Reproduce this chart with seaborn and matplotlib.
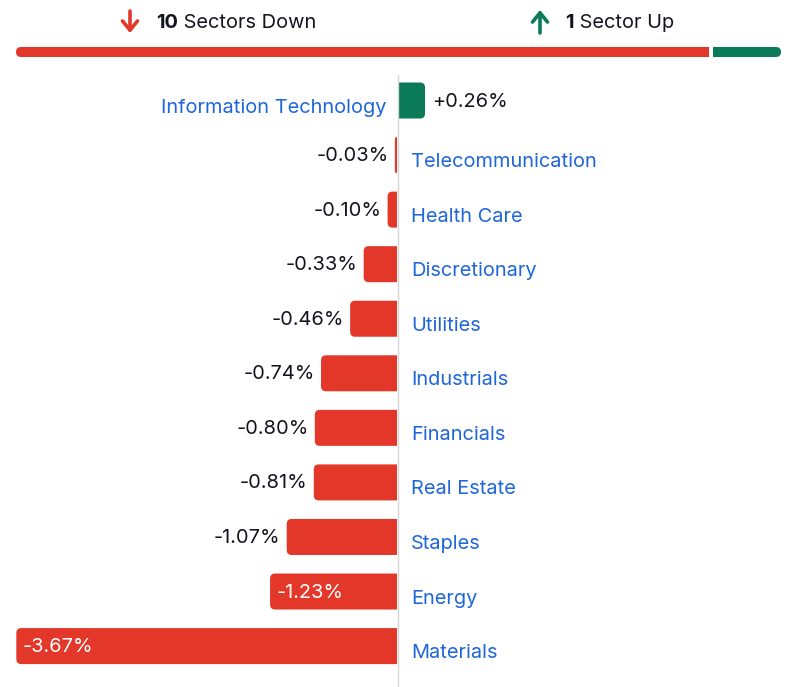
"""
Sector performance bar chart: rounded horizontal bars diverging from zero,
with a down/up summary strip on top.
"""

import matplotlib
matplotlib.use("Agg")
import matplotlib.pyplot as plt
from matplotlib.patches import FancyBboxPatch, Rectangle
import pandas as pd
import seaborn as sns

sectors = [
    "Information Technology", "Telecommunication", "Health Care",
    "Discretionary", "Utilities", "Industrials", "Financials",
    "Real Estate", "Staples", "Energy", "Materials",
]
changes = [0.26, -0.03, -0.10, -0.33, -0.46, -0.74, -0.80, -0.81, -1.07, -1.23, -3.67]

RED = "#e3372a"
GREEN = "#0a7a57"
BLUE = "#1f66d8"
INK = "#14141f"

sns.set_theme(style="white")
plt.rcParams["font.family"] = ["Inter", "DejaVu Sans"]

W, H = 793, 687
PX_PER_PCT = 104.0
ROW_PX = 54.55

df = pd.DataFrame({"sector": sectors, "change": changes})
df["sign"] = df["change"].apply(lambda v: "up" if v >= 0 else "down")

fig = plt.figure(figsize=(W / 100, H / 100), dpi=100)
fig.patch.set_facecolor("white")

# ── bar panel ─────────────────────────────────────────────────────────────────
left_px, right_px, top_px = 16, 781, 75
ax = fig.add_axes([left_px / W, 0, (right_px - left_px) / W, (H - top_px) / H])
zero_px = 398
ax.set_xlim(-(zero_px - left_px) / PX_PER_PCT, (right_px - zero_px) / PX_PER_PCT)

sns.barplot(data=df, x="change", y="sector", hue="sign", orient="h",
            palette={"up": GREEN, "down": RED}, width=0.66, dodge=False,
            legend=False, ax=ax, saturation=1)

ax.set_ylim(len(sectors) - 1 + 0.75, -25.5 / ROW_PX)
ax.axvline(0, color="#d6d6d6", lw=1.0, zorder=5)
ax.axis("off")

# round only the outer corners: rounded box pushed past zero, clipped at zero
x_per_px = 1 / PX_PER_PCT
y_per_px = 1 / ROW_PX
aspect = y_per_px / x_per_px
gap = 1.2 * x_per_px
for patch in list(ax.patches):
    x0, y0 = patch.get_x(), patch.get_y()
    w, h = patch.get_width(), patch.get_height()
    color = patch.get_facecolor()
    patch.remove()
    lo, hi = (x0, x0 + w) if w >= 0 else (x0 + w, x0)
    span = hi - lo - gap
    r = min(5 * x_per_px, span)
    ext = 2 * r
    if w < 0:
        box = FancyBboxPatch((lo, y0), span + ext, h,
                             boxstyle=f"round,pad=0,rounding_size={r}",
                             mutation_aspect=aspect, fc=color, ec="none", zorder=3)
        clip = Rectangle((lo - 1, y0 - 1), span + 1, h + 2, transform=ax.transData)
    else:
        box = FancyBboxPatch((gap - ext, y0), span + ext, h,
                             boxstyle=f"round,pad=0,rounding_size={r}",
                             mutation_aspect=aspect, fc=color, ec="none", zorder=3)
        clip = Rectangle((gap, y0 - 1), span + 1, h + 2, transform=ax.transData)
    ax.add_patch(box)
    box.set_clip_path(clip)

FS = 14.4
for i, (name, v) in enumerate(zip(sectors, changes)):
    label = f"{v:+.2f}%"
    if v >= 0:
        ax.text(v + 7 * x_per_px, i + 1 * y_per_px, label, ha="left", va="center",
                fontsize=FS, color=INK)
        ax.text(-12 * x_per_px, i + 7 * y_per_px, name, ha="right", va="center",
                fontsize=FS, color=BLUE)
    else:
        if abs(v) > 1.15:
            ax.text(v + 6.5 * x_per_px, i + 1 * y_per_px, label, ha="left", va="center",
                    fontsize=FS, color="white")
        else:
            ax.text(v - 6 * x_per_px, i + 1 * y_per_px, label, ha="right", va="center",
                    fontsize=FS, color=INK)
        ax.text(13 * x_per_px, i + 7 * y_per_px, name, ha="left", va="center",
                fontsize=FS, color=BLUE)

# ── header: counts + proportion strip ─────────────────────────────────────────
n_down = int((df["change"] < 0).sum())
n_up = int((df["change"] >= 0).sum())

hx = fig.add_axes([0, (H - top_px) / H, 1, top_px / H])
hx.set_xlim(0, W)
hx.set_ylim(top_px, 0)
hx.axis("off")

hx.annotate("", xy=(130, 33), xytext=(130, 11),
            arrowprops=dict(arrowstyle="->,head_length=0.55,head_width=0.45",
                            color=RED, lw=2.6, shrinkA=0, shrinkB=0))
hx.annotate("", xy=(540, 10), xytext=(540, 33),
            arrowprops=dict(arrowstyle="->,head_length=0.55,head_width=0.45",
                            color=GREEN, lw=2.6, shrinkA=0, shrinkB=0))

t = hx.text(156, 23, f"{n_down}", fontsize=FS, fontweight="bold", color=INK,
            ha="left", va="center")
hx.annotate(" Sectors Down" if n_down != 1 else " Sector Down", xycoords=t,
            xy=(1, 0.5), va="center", ha="left", fontsize=FS, color=INK)
t = hx.text(565, 23, f"{n_up}", fontsize=FS, fontweight="bold", color=INK,
            ha="left", va="center")
hx.annotate(" Sector Up" if n_up == 1 else " Sectors Up", xycoords=t,
            xy=(1, 0.5), va="center", ha="left", fontsize=FS, color=INK)

bar_l, bar_r, bar_y, bar_h, split_gap = 16, 781, 47, 10, 4
total = n_down + n_up
split = bar_l + (bar_r - bar_l) * n_down / total
for lo, hi, color, flat in [(bar_l, split - split_gap / 2, RED, "right"),
                            (split + split_gap / 2, bar_r, GREEN, "left")]:
    if flat == "right":
        seg = FancyBboxPatch((lo, bar_y), hi - lo + 10, bar_h,
                             boxstyle="round,pad=0,rounding_size=5", fc=color, ec="none")
    else:
        seg = FancyBboxPatch((lo - 10, bar_y), hi - lo + 10, bar_h,
                             boxstyle="round,pad=0,rounding_size=5", fc=color, ec="none")
    hx.add_patch(seg)
    seg.set_clip_path(Rectangle((lo, bar_y - 2), hi - lo, bar_h + 4, transform=hx.transData))

fig.savefig("out.png", dpi=100)
